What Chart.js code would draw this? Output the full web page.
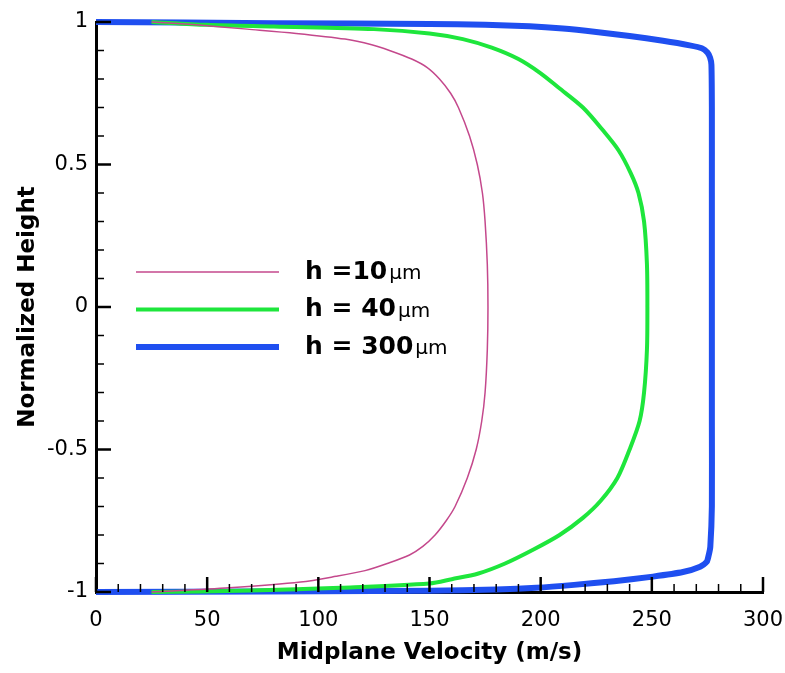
<!DOCTYPE html>
<html>
<head>
<meta charset="utf-8">
<script src="https://cdn.jsdelivr.net/npm/chart.js@4.4.1/dist/chart.umd.min.js"></script>
<style>
html,body{margin:0;padding:0;background:#fff;}
</style>
</head>
<body>
<canvas id="myChart" width="785" height="673"></canvas>
<script>
// velocity profiles, top wall (h=1) to bottom wall (h=-1)
const seriesLabels = ['h =10\u03bcm', 'h = 40\u03bcm', 'h = 300\u03bcm'];

const pinkHeight = [1.0, 0.99, 0.975, 0.96, 0.94, 0.92, 0.9, 0.87, 0.84, 0.8, 0.75, 0.7, 0.6, 0.5, 0.4, 0.3, 0.15, 0.0,
  -0.15, -0.3, -0.4, -0.5, -0.6, -0.7, -0.75, -0.8, -0.84, -0.87, -0.9, -0.925, -0.945, -0.965, -0.985, -1.0];
const pinkVel = [25, 45, 68, 90, 112, 124, 132, 142, 149, 154.5, 159.5, 163, 168, 171.5, 173.8, 175, 176, 176.3,
  176, 175, 173.5, 171, 167, 161.5, 157.5, 152.5, 147, 141, 131, 121, 108, 92, 60, 25];

const greenHeight = [1.0, 0.99, 0.984, 0.975, 0.96, 0.94, 0.91, 0.87, 0.82, 0.77, 0.7, 0.62, 0.55, 0.47, 0.4, 0.3, 0.15, 0.0,
  -0.15, -0.3, -0.4, -0.5, -0.6, -0.68, -0.74, -0.8, -0.85, -0.9, -0.935, -0.955, -0.97, -0.985, -0.995, -1.0];
const greenVel = [25, 50, 80, 125, 150, 165, 178, 190, 200, 208, 219, 228, 235, 240.5, 244, 246.5, 247.8, 248,
  247.8, 246.5, 244.5, 240, 234.5, 227, 219, 208.5, 197, 184, 172, 160, 150, 110, 70, 25];

const blueHeight = [1.0, 0.996, 0.993, 0.99, 0.985, 0.977, 0.965, 0.951, 0.934, 0.918, 0.908, 0.893, 0.875, 0.85, 0.7, 0.4, 0.0,
  -0.4, -0.7, -0.841, -0.87, -0.894, -0.911, -0.93, -0.946, -0.962, -0.975, -0.985, -0.991, -0.996, -1.0];
const blueVel = [0, 80, 150, 175, 195, 210, 225, 240, 255, 267, 272.5, 275, 276.2, 276.8, 277, 277, 277,
  277, 277, 276.3, 275.6, 274.7, 271.7, 264, 250.5, 233, 215, 198, 180, 150, 0];

const xTicks = [0, 50, 100, 150, 200, 250, 300];
const yTicks = [-1, -0.5, 0, 0.5, 1];

function pts(vel, hgt){ return vel.map((v,i)=>({x:v, y:hgt[i]})); }

const tickMarks = {
  id:'tickMarks',
  afterDatasetsDraw(chart){
    const {ctx, chartArea:a, scales:{x,y}} = chart;
    ctx.save();
    ctx.strokeStyle='#000';
    for(let i=0;i<=30;i++){
      const px=x.getPixelForValue(i*10), major=i%5===0;
      ctx.lineWidth=major?2.5:1.5;
      ctx.beginPath(); ctx.moveTo(px,a.bottom); ctx.lineTo(px,a.bottom-(major?15:8)); ctx.stroke();
    }
    for(let i=-10;i<=10;i++){
      const py=y.getPixelForValue(i/10), major=i%5===0;
      ctx.lineWidth=major?2.5:1.5;
      ctx.beginPath(); ctx.moveTo(a.left,py); ctx.lineTo(a.left+(major?15:8),py); ctx.stroke();
    }
    ctx.restore();
  }
};

const legendBox = {
  id:'legendBox',
  afterDatasetsDraw(chart){
    const ctx=chart.ctx;
    ctx.save();
    chart.data.datasets.forEach((ds,i)=>{
      const ly=272+i*37.5;
      ctx.strokeStyle=ds.borderColor; ctx.lineWidth=ds.borderWidth;
      ctx.beginPath(); ctx.moveTo(136,ly); ctx.lineTo(279,ly); ctx.stroke();
      const parts=ds.label.split('\u03bc');
      ctx.fillStyle='#000'; ctx.textBaseline='middle'; ctx.textAlign='left';
      ctx.font='bold 25px "DejaVu Sans"';
      ctx.fillText(parts[0],305,ly);
      const w=ctx.measureText(parts[0]).width;
      ctx.font='20px "DejaVu Sans"';
      ctx.fillText('\u03bc'+parts[1],305+w+2,ly+2);
    });
    ctx.restore();
  }
};

const ctx=document.getElementById('myChart');
new Chart(ctx,{
  type:'scatter',
  data:{
    datasets:[
      {label:seriesLabels[0], data:pts(pinkVel,pinkHeight), borderColor:'#c4488c', borderWidth:1.5, showLine:true, pointRadius:0, tension:0.3, clip:8},
      {label:seriesLabels[1], data:pts(greenVel,greenHeight), borderColor:'#1ee63c', borderWidth:4, showLine:true, pointRadius:0, tension:0.3, clip:8},
      {label:seriesLabels[2], data:pts(blueVel,blueHeight), borderColor:'#1f4ff0', borderWidth:6, showLine:true, pointRadius:0, tension:0.2, clip:8}
    ]
  },
  options:{
    responsive:false,
    animation:false,
    layout:{padding:{left:0,top:22,right:22,bottom:0}},
    plugins:{legend:{display:false}, tooltip:{enabled:false}},
    scales:{
      x:{
        type:'linear', min:0, max:300,
        afterBuildTicks:s=>{ s.ticks=xTicks.map(v=>({value:v})); },
        afterFit:s=>{ s.height=81; s.paddingLeft=0; s.paddingRight=0; },
        grid:{display:true, drawOnChartArea:false, drawTicks:false},
        border:{display:true, color:'#000', width:3},
        ticks:{font:{family:'DejaVu Sans', size:21}, color:'#000', padding:16, maxRotation:0},
        title:{display:true, text:'Midplane Velocity (m/s)', font:{family:'DejaVu Sans', size:23, weight:'bold'}, color:'#000', padding:{top:0,bottom:6}}
      },
      y:{
        type:'linear', min:-1, max:1,
        afterBuildTicks:s=>{ s.ticks=yTicks.map(v=>({value:v})); },
        afterFit:s=>{ s.width=96; s.paddingTop=0; s.paddingBottom=0; },
        grid:{display:true, drawOnChartArea:false, drawTicks:false},
        border:{display:true, color:'#000', width:3},
        ticks:{font:{family:'DejaVu Sans', size:21}, color:'#000', padding:8, callback:v=>String(v)},
        title:{display:true, text:'Normalized Height', font:{family:'DejaVu Sans', size:23, weight:'bold'}, color:'#000', padding:{top:14,bottom:0}}
      }
    }
  },
  plugins:[tickMarks, legendBox]
});
</script>
</body>
</html>
